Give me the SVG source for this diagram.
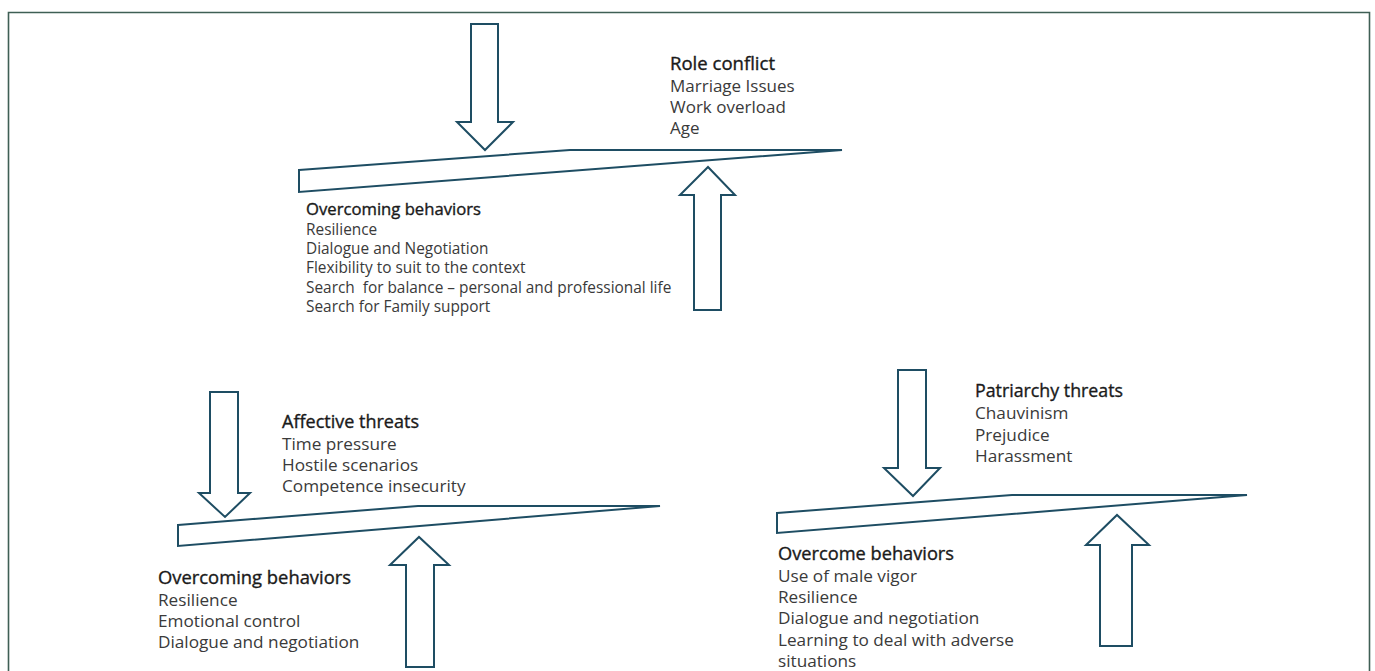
<svg xmlns="http://www.w3.org/2000/svg" width="1375" height="671" viewBox="0 0 1375 671">
<style>
.frame{fill:none;stroke:#3f5f55;stroke-width:1.6}
.shape{fill:#fff;stroke:#1e4d63;stroke-width:2;stroke-linejoin:miter}
.t{font-family:"Open Sans","Noto Sans",sans-serif;fill:#3a3a3a}
.h{font-family:"Open Sans","Noto Sans",sans-serif;fill:#1a1a1a;stroke:#1a1a1a;stroke-width:0.35}
</style>
<rect width="1375" height="671" fill="#fff"/>
<path class="frame" d="M8.5,680 V12.5 H1369.5 V680"/>
<g id="role-conflict">
<g id="conn-top">
<polygon class="shape" points="471,24 498,24 498,122 513,122 485,150 457,122 471,122"/>
<polygon class="shape" points="299,170 570,150 842,150 299,192"/>
<polygon class="shape" points="694,310 721,310 721,195 735,195 708,167 680,195 694,195"/>
</g>
<text class="h" x="670" y="70" font-size="17.5" textLength="105" lengthAdjust="spacingAndGlyphs">Role conflict</text>
<text class="t" font-size="17"><tspan x="670" y="92">Marriage Issues</tspan><tspan x="670" y="113">Work overload</tspan><tspan x="670" y="134">Age</tspan></text>
<text class="h" x="306" y="215" font-size="15.8" textLength="175" lengthAdjust="spacingAndGlyphs">Overcoming behaviors</text>
<text class="t" font-size="15.4"><tspan x="306" y="235">Resilience</tspan><tspan x="306" y="254">Dialogue and Negotiation</tspan><tspan x="306" y="273">Flexibility to suit to the context</tspan><tspan x="306" y="293" xml:space="preserve">Search  for balance – personal and professional life</tspan><tspan x="306" y="312">Search for Family support</tspan></text>
</g>
<g id="affective">
<g id="conn-left">
<polygon class="shape" points="210,392 238,392 238,493 250,493 225,517 199,493 210,493"/>
<polygon class="shape" points="178,525 418,506 660,506 178,546"/>
<polygon class="shape" points="406,667 434,667 434,565 449,565 419,537 390,565 406,565"/>
</g>
<text class="h" x="282" y="428" font-size="17.3" textLength="137" lengthAdjust="spacingAndGlyphs">Affective threats</text>
<text class="t" font-size="17.2"><tspan x="282" y="450">Time pressure</tspan><tspan x="282" y="471">Hostile scenarios</tspan><tspan x="282" y="492">Competence insecurity</tspan></text>
<text class="h" x="158" y="584" font-size="17.3" textLength="193" lengthAdjust="spacingAndGlyphs">Overcoming behaviors</text>
<text class="t" font-size="17.2"><tspan x="158" y="606">Resilience</tspan><tspan x="158" y="627">Emotional control</tspan><tspan x="158" y="648">Dialogue and negotiation</tspan></text>
</g>
<g id="patriarchy">
<g id="conn-right">
<polygon class="shape" points="898,370 926,370 926,468 940,468 913,496 884,468 898,468"/>
<polygon class="shape" points="777,513 1012,495 1247,495 777,533"/>
<polygon class="shape" points="1100,646 1132,646 1132,545 1149,545 1117,515 1086,545 1100,545"/>
</g>
<text class="h" x="975" y="397" font-size="17.3" textLength="148" lengthAdjust="spacingAndGlyphs">Patriarchy threats</text>
<text class="t" font-size="17.2"><tspan x="975" y="419">Chauvinism</tspan><tspan x="975" y="441">Prejudice</tspan><tspan x="975" y="462">Harassment</tspan></text>
<text class="h" x="778" y="560" font-size="17.3" textLength="176" lengthAdjust="spacingAndGlyphs">Overcome behaviors</text>
<text class="t" font-size="17.2"><tspan x="778" y="582">Use of male vigor</tspan><tspan x="778" y="603">Resilience</tspan><tspan x="778" y="624">Dialogue and negotiation</tspan><tspan x="778" y="646">Learning to deal with adverse</tspan><tspan x="778" y="667">situations</tspan></text>
</g>
</svg>
